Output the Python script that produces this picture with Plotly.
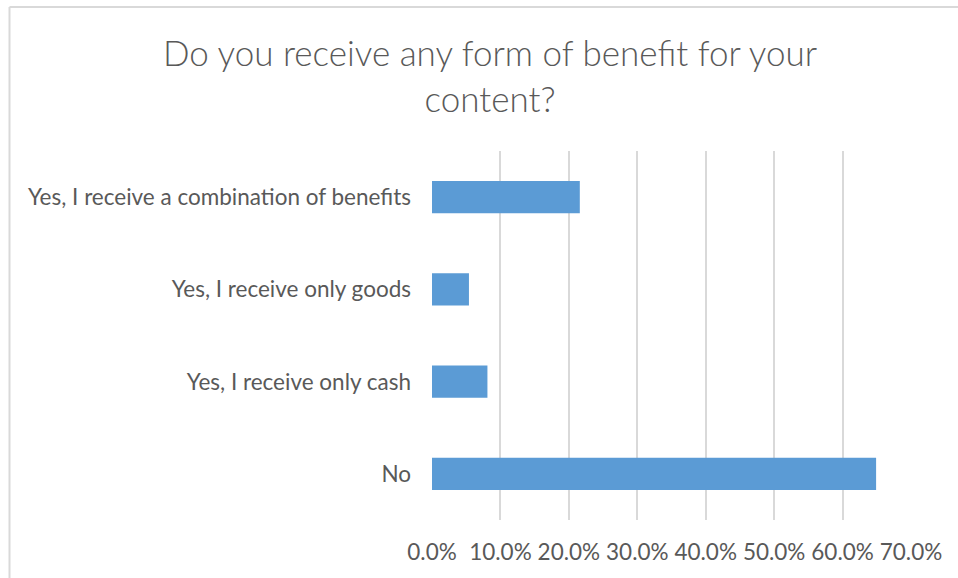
import plotly.graph_objects as go

# Survey answers (bottom to top as drawn) and share of respondents
categories = [
    "No",
    "Yes, I receive only cash",
    "Yes, I receive only goods",
    "Yes, I receive a combination of benefits",
]
shares = [0.649, 0.081, 0.054, 0.216]
tick_values = [0.0, 0.1, 0.2, 0.3, 0.4, 0.5, 0.6, 0.7]
chart_title = "Do you receive any form of benefit for your<br>content?"

TEXT = "#595959"
GRID = "#D9D9D9"
BAR = "#5B9BD5"
FONT = "Lato, Carlito, Calibri, sans-serif"

# plot area in pixels
L, R, T, B = 432, 47, 151, 58
PW, PH = 958 - L - R, 578 - T - B


def px_x(px):
    return (px - L) / PW


def px_y(py):
    return (578 - B - py) / PH


fig = go.Figure(
    go.Bar(
        x=shares,
        y=categories,
        orientation="h",
        marker=dict(color=BAR, line=dict(width=0)),
    )
)

fig.update_layout(
    width=958,
    height=578,
    margin=dict(l=L, r=R, t=T, b=B),
    paper_bgcolor="white",
    plot_bgcolor="white",
    showlegend=False,
    bargap=0.65,
    font=dict(family=FONT, size=22.5, color=TEXT),
    xaxis=dict(
        range=[0, 0.7],
        tickvals=tick_values,
        tickformat=".1%",
        showgrid=True,
        gridcolor=GRID,
        gridwidth=2,
        zeroline=False,
        showline=False,
        ticks="",
        ticklabelstandoff=16,
        fixedrange=True,
    ),
    yaxis=dict(
        categoryorder="array",
        categoryarray=categories,
        showgrid=False,
        zeroline=False,
        showline=False,
        ticks="",
        ticklabelstandoff=20,
        fixedrange=True,
    ),
    annotations=[
        dict(
            text=chart_title,
            xref="paper", yref="paper",
            x=px_x(490), y=px_y(75),
            xanchor="center", yanchor="middle",
            showarrow=False,
            align="center",
            font=dict(family=FONT, size=35, color=TEXT, weight=300),
        )
    ],
    shapes=[
        dict(type="line", xref="paper", yref="paper",
             x0=px_x(9.5), x1=px_x(9.5),
             y0=px_y(600), y1=px_y(7),
             line=dict(color=GRID, width=2)),
        dict(type="line", xref="paper", yref="paper",
             x0=px_x(9.5), x1=px_x(980),
             y0=px_y(7), y1=px_y(7),
             line=dict(color=GRID, width=2)),
    ],
)

fig.write_html("out.html")
